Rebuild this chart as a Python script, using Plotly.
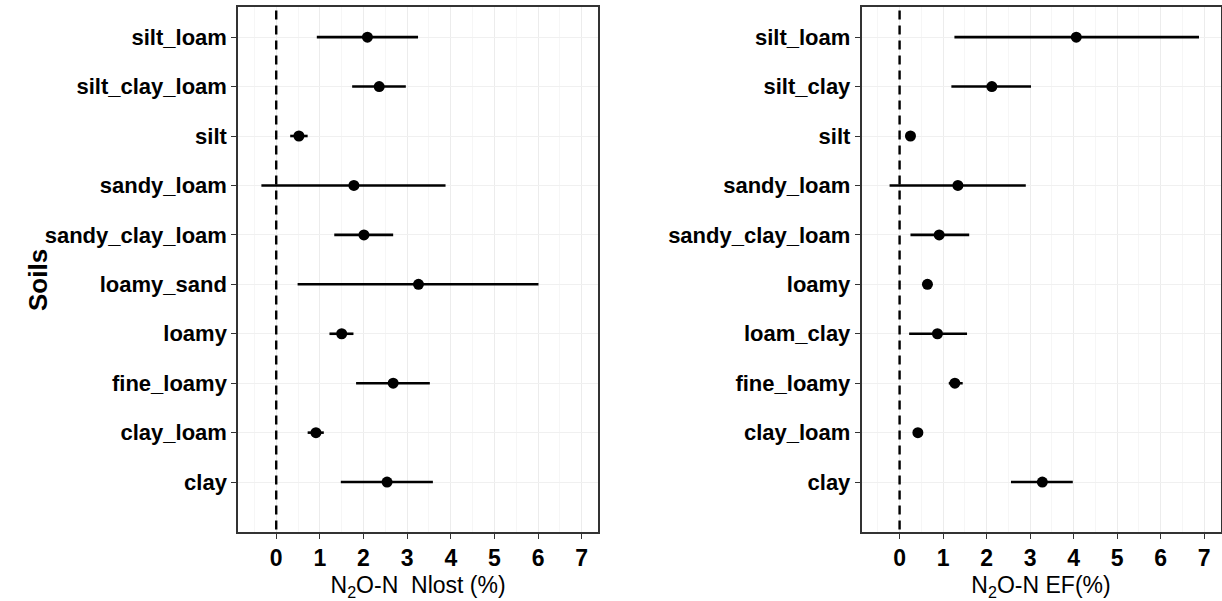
import plotly.graph_objects as go

# Soil classes, bottom to top on each panel
soils_nlost = ["clay", "clay_loam", "fine_loamy", "loamy", "loamy_sand",
               "sandy_clay_loam", "sandy_loam", "silt", "silt_clay_loam", "silt_loam"]
nlost_mean = [2.54, 0.91, 2.68, 1.50, 3.26, 2.01, 1.78, 0.52, 2.36, 2.09]
nlost_low = [1.48, 0.72, 1.83, 1.22, 0.49, 1.33, -0.34, 0.32, 1.74, 0.93]
nlost_high = [3.59, 1.09, 3.52, 1.77, 6.01, 2.68, 3.88, 0.72, 2.97, 3.25]

soils_ef = ["clay", "clay_loam", "fine_loamy", "loam_clay", "loamy",
            "sandy_clay_loam", "sandy_loam", "silt", "silt_clay", "silt_loam"]
ef_mean = [3.28, 0.42, 1.27, 0.87, 0.64, 0.91, 1.34, 0.25, 2.12, 4.06]
ef_low = [2.56, 0.40, 1.13, 0.22, 0.62, 0.25, -0.23, 0.23, 1.19, 1.26]
ef_high = [3.98, 0.44, 1.45, 1.55, 0.66, 1.60, 2.90, 0.27, 3.02, 6.88]

x_ticks = [0, 1, 2, 3, 4, 5, 6, 7]

FONT = "Liberation Sans, Arial, sans-serif"

fig = go.Figure()


def add_panel(cats, mean, low, high, xa, ya):
    fig.add_trace(go.Scatter(
        x=mean, y=cats, mode="markers",
        marker=dict(color="black", size=11),
        error_x=dict(type="data", symmetric=False,
                     array=[h - m for h, m in zip(high, mean)],
                     arrayminus=[m - l for m, l in zip(mean, low)],
                     color="black", thickness=2.6, width=0),
        xaxis=xa, yaxis=ya, showlegend=False, hoverinfo="x+y",
    ))


add_panel(soils_nlost, nlost_mean, nlost_low, nlost_high, "x", "y")
add_panel(soils_ef, ef_mean, ef_low, ef_high, "x2", "y2")

# Zero reference lines
for xr, yr in (("x", "y domain"), ("x2", "y2 domain")):
    fig.add_shape(type="line", xref=xr, yref=yr, x0=0, x1=0, y0=0.005, y1=0.995,
                  line=dict(color="black", width=2.4, dash="9px,6px"))

xcommon = dict(
    range=[-0.875, 7.375], tickvals=x_ticks, ticks="outside", ticklen=5,
    tickcolor="#333", showline=True, mirror=True, linecolor="#333", linewidth=1.5,
    showgrid=True, gridcolor="#ececec", gridwidth=1,
    minor=dict(dtick=0.5, tick0=-0.5, showgrid=True, gridcolor="#f6f6f6", gridwidth=1),
    tickfont=dict(family=FONT, size=23, color="black", weight="bold"),
    zeroline=False, title_standoff=7,
    title_font=dict(family=FONT, size=23, color="black"),
)
ycommon = dict(
    type="category", range=[-1.01, 9.61], ticks="outside", ticklen=5, tickcolor="#333",
    showline=True, mirror=True, linecolor="#333", linewidth=1.5,
    showgrid=True, gridcolor="#f0f0f0", gridwidth=1, zeroline=False,
    tickfont=dict(family=FONT, size=22, color="black", weight="bold"),
)

fig.update_layout(
    width=1222, height=601,
    margin=dict(l=0, r=0, t=0, b=0),
    paper_bgcolor="white", plot_bgcolor="white",
    xaxis=dict(domain=[0.1948, 0.4894], anchor="y",
               title_text="N<sub>2</sub>O-N\u00a0\u00a0Nlost (%)", **xcommon),
    yaxis=dict(domain=[0.1148, 0.9884], anchor="x",
               categoryorder="array", categoryarray=soils_nlost, **ycommon),
    xaxis2=dict(domain=[0.7050, 0.9988], anchor="y2",
                title_text="N<sub>2</sub>O-N EF(%)", **xcommon),
    yaxis2=dict(domain=[0.1148, 0.9884], anchor="x2",
                categoryorder="array", categoryarray=soils_ef, **ycommon),
    annotations=[dict(
        text="<b>Soils</b>", textangle=-90, xref="paper", yref="paper",
        x=21 / 1222, y=1 - 280 / 601, showarrow=False,
        font=dict(family=FONT, size=26, color="black"),
    )],
)

fig.write_html("out.html")
